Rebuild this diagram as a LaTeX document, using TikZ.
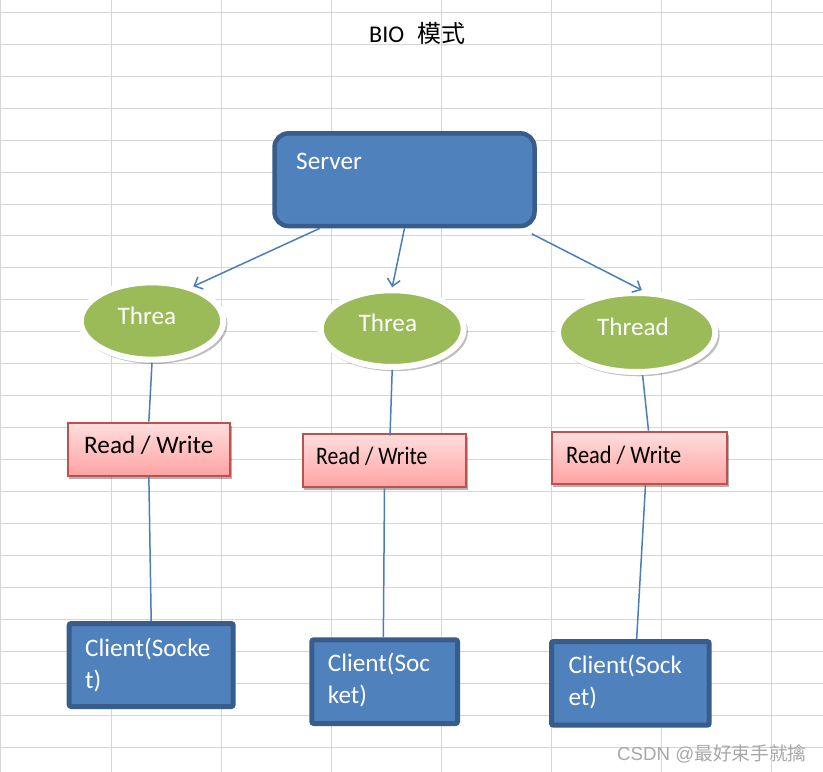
\documentclass[tikz,border=0pt]{standalone}
\usepackage{fontspec}
\setmainfont{Carlito}
\newfontfamily\cjk{Noto Sans CJK SC}
\newfontfamily\wmfont{Liberation Sans}
\usetikzlibrary{arrows.meta,shadows,shapes.geometric,calc}
\definecolor{gridc}{HTML}{D6D6D6}
\definecolor{blueFill}{HTML}{4F81BD}
\definecolor{blueEdge}{HTML}{385D8A}
\definecolor{greenFill}{HTML}{9BBB59}
\definecolor{pinkEdge}{HTML}{C0504D}
\definecolor{pinkTop}{HTML}{FFDEDE}
\definecolor{pinkBot}{HTML}{FFA3A3}
\definecolor{lineBlue}{HTML}{4A7EBB}
\definecolor{wmgray}{HTML}{A8A8A8}
\tikzset{
  gridline/.style={draw=gridc, line width=1pt},
  serverbox/.style={draw=blueEdge, fill=blueFill, line width=4.5pt, rounded corners=14pt, inner sep=0pt},
  clientbox/.style={draw=blueEdge, fill=blueFill, line width=5pt, rounded corners=2pt, inner sep=0pt},
  threadell/.style={ellipse, draw=white, fill=greenFill, line width=6pt, inner sep=0pt,
     drop shadow={shadow xshift=2pt, shadow yshift=-3pt, shadow scale=1.03, opacity=0.25, fill=black}},
  rwbox/.style={draw=pinkEdge, line width=2pt, top color=pinkTop, bottom color=pinkBot, inner sep=0pt,
     drop shadow={shadow xshift=1.5pt, shadow yshift=-3pt, opacity=0.3, fill=black}},
  arr/.style={draw=lineBlue, line width=1.5pt, -{Straight Barb[length=7pt,width=13pt]}},
  conn/.style={draw=lineBlue, line width=1.5pt},
  whitetxt/.style={text=white, font=\fontsize{25.2}{31.7}\selectfont, inner sep=0pt},
  blacktxt/.style={text=black, font=\fontsize{25.2}{29}\selectfont, inner sep=0pt},
}
\begin{document}
\begin{tikzpicture}[x=1pt,y=-1pt]
\useasboundingbox (0,0) rectangle (823,772);
\fill[white] (0,0) rectangle (823,772);
% grid
\foreach \i in {0,...,7} \draw[gridline] ({0.9+110.1*\i},0) -- ({0.9+110.1*\i},772);
\foreach \j in {0,...,23} \draw[gridline] (0,{12.3+31.95*\j}) -- (823,{12.3+31.95*\j});

% title
\node[text=black, inner sep=0pt, font=\fontsize{24}{29}\selectfont, anchor=base west] (title) at (369,42) {BIO\hspace{13pt}{\cjk 模式}};

% server
\node[serverbox, minimum width=260pt, minimum height=92.7pt] (server) at (404.5,179.7) {};
\node[whitetxt, anchor=base west] (serverlbl) at (296,169.3) {Server};

% threads
\node[threadell, minimum width=142.4pt, minimum height=77.3pt] (e1) at (152,321) {};
\node[threadell, minimum width=143pt, minimum height=76.7pt] (e2) at (392.2,328.6) {};
\node[threadell, minimum width=157.3pt, minimum height=79pt] (e3) at (636.6,332.5) {};
\node[whitetxt, anchor=base] (e1lbl) at (147,324.3) {Threa};
\node[whitetxt, anchor=base] (e2lbl) at (387.8,331.7) {Threa};
\node[whitetxt, anchor=base] (e3lbl) at (633,335) {Thread};

% read/write
\node[rwbox, minimum width=162.3pt, minimum height=53pt] (rw1) at (148.85,449.2) {};
\node[rwbox, minimum width=163.6pt, minimum height=53.6pt] (rw2) at (384.5,460.5) {};
\node[rwbox, minimum width=175.6pt, minimum height=52.3pt] (rw3) at (639.5,457.85) {};
\node[blacktxt, anchor=base west] (rw1lbl) at (84,453.3) {Read / Write};
\node[blacktxt, anchor=base west] (rw2lbl) at (316,464.3) {\scalebox{0.86}[1]{Read / Write}};
\node[blacktxt, anchor=base west] (rw3lbl) at (566,463.3) {\scalebox{0.89}[1]{Read / Write}};

% clients
\node[clientbox, minimum width=164pt, minimum height=83pt] (c1) at (151.2,665) {};
\node[clientbox, minimum width=145.7pt, minimum height=83.7pt] (c2) at (384.65,681.65) {};
\node[clientbox, minimum width=157.7pt, minimum height=83.7pt] (c3) at (630.35,683.35) {};
\node[whitetxt, anchor=base west, align=left] (c1lbl) at (85,688.4) {Client(Socke\\t)};
\node[whitetxt, anchor=base west, align=left] (c2lbl) at (327.7,703.4) {Client(Soc\\ket)};
\node[whitetxt, anchor=base west, align=left] (c3lbl) at (568.3,705) {Client(Sock\\et)};

% arrows server -> threads
\draw[arr] ($(server.south west)!0.18!(server.south east)$) -- (e1.40);
\draw[arr] (server.south) -- (e2.north);
\draw[arr] ([xshift=-5pt,yshift=-5.5pt]server.south east) -- (e3.83);

% threads -> read/write
\draw[conn] (e1.south) -- (rw1.north);
\draw[conn] (e2.south) -- ([xshift=5.5pt,yshift=-3pt]rw2.north);
\draw[conn] ([xshift=6pt]e3.south) -- ([xshift=9pt]rw3.north);

% read/write -> clients
\draw[conn] (rw1.south) -- (c1.north);
\draw[conn] (rw2.south) -- ([xshift=-1.3pt]c2.north);
\draw[conn] ([xshift=6pt]rw3.south) -- ([xshift=6.3pt]c3.north);

% watermark
\node[anchor=base west, text=wmgray, font=\wmfont\fontsize{18.7}{22}\selectfont, inner sep=0pt] (wm) at (617,760) {CSDN @{\cjk 最好束手就擒}};
\end{tikzpicture}
\end{document}
